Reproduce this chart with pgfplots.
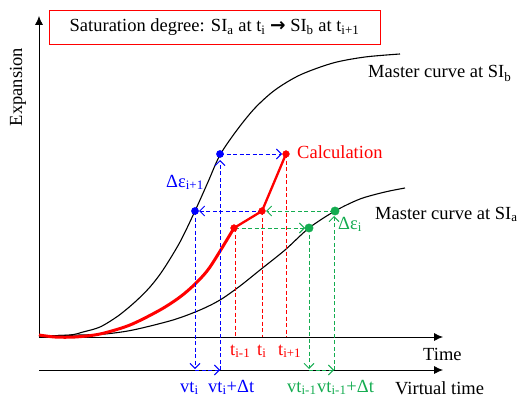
\documentclass[border=0pt]{standalone}
\usepackage{pgfplots}
\pgfplotsset{compat=1.18}
\usepackage{fontspec}
\setmainfont{Liberation Serif}
\newfontfamily\dejavu{DejaVu Sans}
\usetikzlibrary{arrows.meta}
\definecolor{mygreen}{RGB}{20,172,80}
\tikzset{lbl/.style={font=\fontsize{18.5}{22}\selectfont, inner sep=0pt}}
\begin{document}
\fontsize{18.5}{22}\selectfont
\begin{tikzpicture}
\begin{axis}[x=1pt, y=1pt, y dir=reverse, xmin=0, xmax=521, ymin=0, ymax=398,
  hide axis, clip=false]
% axes
\addplot[black, line width=0.8pt, -{Latex[length=9pt,width=8pt]}] coordinates {(39,337) (39,16)};
\addplot[black, line width=0.8pt, -{Latex[length=9pt,width=8pt]}] coordinates {(39,337) (443,337)};
\addplot[black, line width=0.8pt, -{Latex[length=9pt,width=8pt]}] coordinates {(39,370) (443,370)};
% master curve b
\addplot[black, line width=1.1pt, smooth] coordinates {(39,336) (70,335) (83,332) (100,327) (118,316) (135,302) (150,287) (163,270) (180,242) (195,211) (208,182) (220,155) (237,130) (255,108) (275,90) (300,75) (333,63) (365,57) (400,54)};
% master curve a
\addplot[black, line width=1.1pt, smooth] coordinates {(39,336) (80,335) (105,334) (133,330) (173,320) (200,310) (220,300) (240,286) (260,270) (285,250) (309,228) (335,211) (360,199) (385,192) (405,188)};
% red calculation curve
\addplot[red, line width=3pt, smooth] coordinates {(39,335) (55,337) (75,337) (100,334) (130,325) (160,310) (180,297) (195,284) (210,267) (234,228)};
\addplot[red, line width=2.3pt] coordinates {(234,228) (262,211) (286,154)};
% red dashed verticals
\addplot[red, line width=0.8pt, dash pattern=on 4pt off 2.5pt] coordinates {(235,228) (235,337)};
\addplot[red, line width=0.8pt, dash pattern=on 4pt off 2.5pt] coordinates {(262,211) (262,337)};
\addplot[red, line width=0.8pt, dash pattern=on 4pt off 2.5pt] coordinates {(286,154) (286,337)};
% blue dashed
\addplot[blue, line width=0.9pt, dash pattern=on 4pt off 2.5pt, -{Straight Barb[length=5pt,width=10pt]}] coordinates {(195,211) (195,369)};
\addplot[blue, line width=0.9pt, dash pattern=on 4pt off 2.5pt, -{Straight Barb[length=5pt,width=10pt]}] coordinates {(220,370) (220,160)};
\addplot[blue, line width=0.9pt, dash pattern=on 4pt off 2.5pt, -{Straight Barb[length=5pt,width=10pt]}] coordinates {(220,154) (282,154)};
\addplot[blue, line width=0.9pt, dash pattern=on 4pt off 2.5pt, -{Straight Barb[length=5pt,width=10pt]}] coordinates {(262,211) (199,211)};
\addplot[blue, line width=0.9pt, dash pattern=on 4pt off 2.5pt, -{Straight Barb[length=5pt,width=10pt]}] coordinates {(195,370) (220,370)};
% green dashed
\addplot[mygreen, line width=0.9pt, dash pattern=on 4pt off 2.5pt, -{Straight Barb[length=5pt,width=10pt]}] coordinates {(334,211) (266,211)};
\addplot[mygreen, line width=0.9pt, dash pattern=on 4pt off 2.5pt, -{Straight Barb[length=5pt,width=10pt]}] coordinates {(235,228) (305,228)};
\addplot[mygreen, line width=0.9pt, dash pattern=on 4pt off 2.5pt, -{Straight Barb[length=5pt,width=10pt]}] coordinates {(309,228) (309,369)};
\addplot[mygreen, line width=0.9pt, dash pattern=on 4pt off 2.5pt, -{Straight Barb[length=5pt,width=10pt]}] coordinates {(334,370) (334,216)};
\addplot[mygreen, line width=0.9pt, dash pattern=on 4pt off 2.5pt, -{Straight Barb[length=5pt,width=10pt]}] coordinates {(309,370) (334,370)};
% points
\addplot[only marks, mark=*, mark size=3.6pt, blue] coordinates {(195,211) (220,154)};
\addplot[only marks, mark=*, mark size=3.4pt, red] coordinates {(234,228) (262,211) (286,154)};
\addplot[only marks, mark=*, mark size=4.2pt, mygreen] coordinates {(309,228) (335,211)};
% texts
\node[lbl, draw=red, line width=0.9pt, minimum width=331pt, minimum height=34pt] at (axis cs:214.5,27) {Saturation degree: SI\textsubscript{a} at t\textsubscript{i} {\dejavu\bfseries →} SI\textsubscript{b} at t\textsubscript{i+1}};
\node[lbl, rotate=90] at (axis cs:18,87) {Expansion};
\node[lbl, anchor=base west] at (axis cs:368,78) {Master curve at SI\textsubscript{b}};
\node[lbl, anchor=base west] at (axis cs:375,219) {Master curve at SI\textsubscript{a}};
\node[lbl, anchor=base west, text=red] at (axis cs:297,158) {Calculation};
\node[lbl, anchor=base west, text=blue] at (axis cs:166,187) {Δε\textsubscript{i+1}};
\node[lbl, anchor=base west, text=mygreen] at (axis cs:338,229) {Δε\textsubscript{i}};
\node[lbl, anchor=base west, text=red] at (axis cs:230,355) {t\textsubscript{i-1}};
\node[lbl, anchor=base west, text=red] at (axis cs:257,355) {t\textsubscript{i}};
\node[lbl, anchor=base west, text=red] at (axis cs:278,355) {t\textsubscript{i+1}};
\node[lbl, anchor=base west] at (axis cs:423,360) {Time};
\node[lbl, anchor=base west] at (axis cs:395,394) {Virtual time};
\node[lbl, anchor=base west, text=blue] at (axis cs:180,392) {vt\textsubscript{i}};
\node[lbl, anchor=base west, text=blue] at (axis cs:208,392) {vt\textsubscript{i}+Δt};
\node[lbl, anchor=base west, text=mygreen] at (axis cs:287,392) {vt\textsubscript{i-1}};
\node[lbl, anchor=base west, text=mygreen] at (axis cs:317,392) {vt\textsubscript{i-1}+Δt};
\end{axis}
\pgfresetboundingbox
\path (current axis.south west) rectangle (current axis.north east);
\end{tikzpicture}
\end{document}
